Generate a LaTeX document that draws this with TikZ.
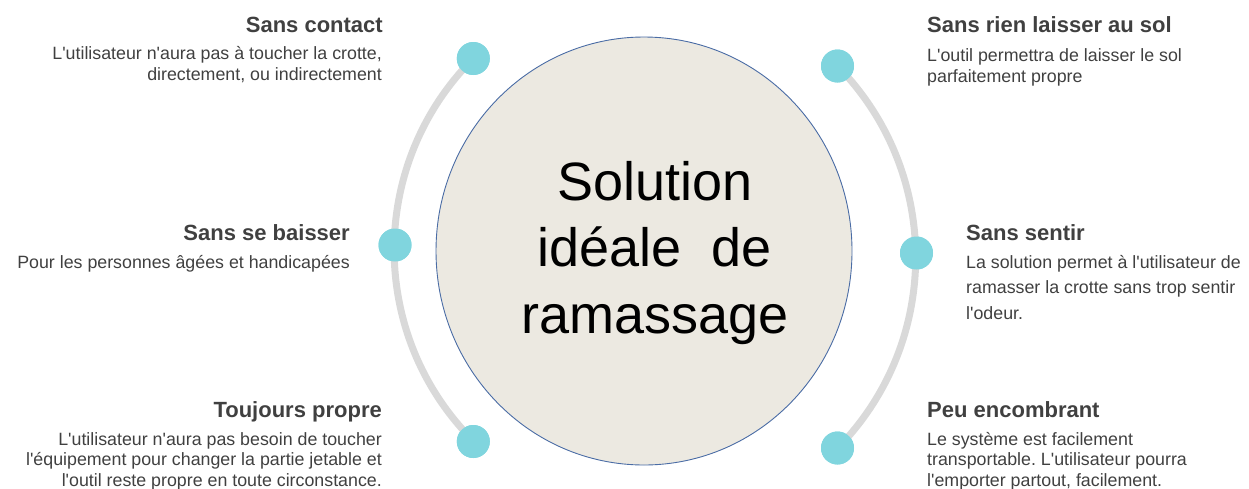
\documentclass[tikz,border=0pt]{standalone}
\usepackage{fontspec}
\setmainfont{Liberation Sans}[Ligatures=TeXOff]
\usetikzlibrary{shapes.geometric}
\definecolor{dotcol}{HTML}{80D5DE}
\definecolor{trackcol}{HTML}{D9D9D9}
\definecolor{hubfill}{HTML}{ECE9E1}
\definecolor{hubline}{HTML}{4A6CA5}
\definecolor{txtcol}{HTML}{404040}
\tikzset{
  dotnode/.style={circle, fill=dotcol, minimum size=33pt, inner sep=0pt},
  track/.style={draw=trackcol, line width=7pt},
  hub/.style={ellipse, fill=hubfill, draw=hubline, line width=0.9pt, minimum width=416pt, minimum height=428pt, inner sep=0pt},
  ttl/.style={inner sep=0pt, text=txtcol, font=\fontsize{22}{26}\selectfont\bfseries},
  body/.style={inner sep=0pt, text=txtcol},
  hubtext/.style={inner sep=0pt, text=black}
}
\frenchspacing
\begin{document}
\begin{tikzpicture}[x=1pt, y=-1pt]
\useasboundingbox (0,0) rectangle (1249,488);
% dots
\node[dotnode] (l1) at (473.3,58.5) {};
\node[dotnode] (l2) at (395,245) {};
\node[dotnode] (l3) at (473.3,441.5) {};
\node[dotnode] (r1) at (837.5,66) {};
\node[dotnode] (r2) at (916.5,253) {};
\node[dotnode] (r3) at (837.5,448) {};
% tracks between dots
\draw[track] (l1.center) arc[start angle=225, end angle=135, radius=270.3];
\draw[track] (r1.center) arc[start angle=-44.5, end angle=44.5, radius=272.7];
% redraw dots on top of tracks
\node[dotnode] at (l1) {};
\node[dotnode] at (l2) {};
\node[dotnode] at (l3) {};
\node[dotnode] at (r1) {};
\node[dotnode] at (r2) {};
\node[dotnode] at (r3) {};
% hub
\node[hub] (hub) at (644,251) {};
\node[hubtext, anchor=base, font=\fontsize{54}{66.5}\selectfont] (hubt) at (655,200)
  {\begin{tabular}[t]{@{}c@{}}Solution\\idéale\ \ de\\ramassage\end{tabular}};
% left side
\node[ttl, anchor=base east] (t1) at (383,32) {Sans contact};
\node[body, anchor=base east, font=\fontsize{17.8}{21.5}\selectfont] (b1) at (382,59)
  {\begin{tabular}[t]{@{}r@{}}L'utilisateur n'aura pas à toucher la crotte,\\directement, ou indirectement\end{tabular}};
\node[ttl, anchor=base east] (t2) at (350,240) {Sans se baisser};
\node[body, anchor=base east, font=\fontsize{17.8}{21.5}\selectfont] (b2) at (350,268)
  {Pour les personnes âgées et handicapées};
\node[ttl, anchor=base east] (t3) at (382,417) {Toujours propre};
\node[body, anchor=base east, font=\fontsize{17.8}{20.5}\selectfont] (b3) at (382,445)
  {\begin{tabular}[t]{@{}r@{}}L'utilisateur n'aura pas besoin de toucher\\l'équipement pour changer la partie jetable et\\l'outil reste propre en toute circonstance.\end{tabular}};
% right side
\node[ttl, anchor=base west] (t4) at (927,32) {Sans rien laisser au sol};
\node[body, anchor=base west, font=\fontsize{17.8}{21.5}\selectfont] (b4) at (927,61)
  {\begin{tabular}[t]{@{}l@{}}L'outil permettra de laisser le sol\\parfaitement propre\end{tabular}};
\node[ttl, anchor=base west] (t5) at (966,240) {Sans sentir};
\node[body, anchor=base west, font=\fontsize{17.8}{25.5}\selectfont] (b5) at (966,268)
  {\begin{tabular}[t]{@{}l@{}}La solution permet à l'utilisateur de\\ramasser la crotte sans trop sentir\\l'odeur.\end{tabular}};
\node[ttl, anchor=base west] (t6) at (927,417) {Peu encombrant};
\node[body, anchor=base west, font=\fontsize{17.8}{20.5}\selectfont] (b6) at (927,445)
  {\begin{tabular}[t]{@{}l@{}}Le système est facilement\\transportable. L'utilisateur pourra\\l'emporter partout, facilement.\end{tabular}};
\end{tikzpicture}
\end{document}
